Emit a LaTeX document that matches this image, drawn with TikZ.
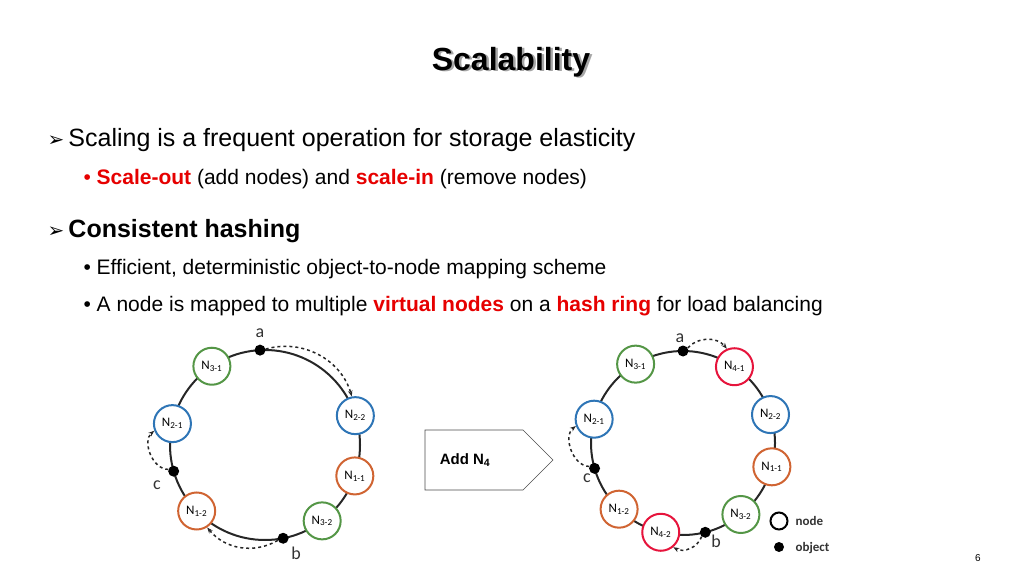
\documentclass[tikz,border=0pt]{standalone}
\usepackage{fontspec}
\setmainfont{Liberation Sans}
\newfontfamily\calfnt{Carlito}
\newfontfamily\djfnt{DejaVu Sans}
\usetikzlibrary{shapes.arrows,calc,arrows.meta}
\definecolor{cg}{RGB}{84,150,70}
\definecolor{cb}{RGB}{46,117,182}
\definecolor{co}{RGB}{208,100,50}
\definecolor{cr}{RGB}{230,20,60}
\definecolor{hl}{RGB}{230,0,0}
\tikzset{
 vn/.style={circle,draw=#1,line width=2pt,fill=white,minimum size=37pt,inner sep=0pt,font=\calfnt\fontsize{13}{13}\selectfont},
 obj/.style={circle,fill=black,minimum size=11pt,inner sep=0pt},
 ring/.style={line width=2pt,black!85},
 dasharr/.style={dashed,line width=1.5pt,-{Stealth[length=6pt]},black!85},
 lbl/.style={font=\calfnt\fontsize{18}{18}\selectfont,text=black!80},
 t1/.style={anchor=base west,font=\fontsize{25}{25}\selectfont},
 t2/.style={anchor=base west,font=\fontsize{21}{21}\selectfont}
}
\begin{document}
\begin{tikzpicture}[x=1pt,y=1pt]
\useasboundingbox (0,0) rectangle (1024,576);
% title
\node (titles) at (513.5,512.5) {\fontsize{32}{32}\selectfont\bfseries\color{black!35}Scalability};
\node (title) at (511,514) {\fontsize{32}{32}\selectfont\bfseries Scalability};
% text
\node[t1] (b1) at (44,429) {{\djfnt\fontsize{20}{20}\selectfont ➢}\,Scaling is a frequent operation for storage elasticity};
\node[t2] (s1) at (80,391) {\textcolor{hl}{•} \textcolor{hl}{\bfseries Scale-out} (add nodes) and \textcolor{hl}{\bfseries scale-in} (remove nodes)};
\node[t1] (b2) at (44,338) {{\djfnt\fontsize{20}{20}\selectfont ➢}\,\bfseries Consistent hashing};
\node[t2] (s2) at (80,301) {• Efficient, deterministic object-to-node mapping scheme};
\node[t2] (s3) at (80,265) {• A node is mapped to multiple \textcolor{hl}{\bfseries virtual nodes} on a \textcolor{hl}{\bfseries hash ring} for load balancing};
% left ring
\coordinate (CL) at (265,131);
\draw[ring] (CL) circle (95);
\node[obj] (aL) at ($(CL)+(93:95)$) {};
\node[obj] (bL) at ($(CL)+(281:95)$) {};
\node[obj] (cL) at ($(CL)+(196:95)$) {};
\node[vn=cg] (L31) at ($(CL)+(124:95)$) {N\textsubscript{3-1}};
\node[vn=cb] (L21) at ($(CL)+(167:95)$) {N\textsubscript{2-1}};
\node[vn=co] (L12) at ($(CL)+(224:95)$) {N\textsubscript{1-2}};
\node[vn=cg] (L32) at ($(CL)+(307:95)$) {N\textsubscript{3-2}};
\node[vn=co] (L11) at ($(CL)+(341:95)$) {N\textsubscript{1-1}};
\node[vn=cb] (L22) at ($(CL)+(18:95)$) {N\textsubscript{2-2}};
\node[lbl] (la) at (260,243) {a};
\node[lbl] (lb) at (296,23) {b};
\node[lbl] (lc) at (157,91) {c};
\draw[dasharr] (aL) to[bend left=45] (L22);
\draw[dasharr] (bL) to[bend left=40] (L12);
\draw[dasharr] (cL) to[bend left=70] (L21);
% arrow
\node[single arrow,draw=black!70,line width=0.6pt,fill=white,minimum height=128pt,minimum width=60pt,single arrow head extend=0pt,single arrow tip angle=90,inner sep=0pt] (arr) at (474,116) {};
\node (addn) at (465,116) {\fontsize{15}{15}\selectfont\bfseries Add N\textsubscript{4}};
% right ring
\coordinate (CR) at (683,133);
\draw[ring] (CR) circle (92);
\node[obj] (aR) at ($(CR)+(90:92)$) {};
\node[obj] (bR) at ($(CR)+(-76:92)$) {};
\node[obj] (cR) at ($(CR)+(-164:92)$) {};
\node[vn=cg] (R31) at ($(CR)+(121:92)$) {N\textsubscript{3-1}};
\node[vn=cr] (R41) at ($(CR)+(56:92)$) {N\textsubscript{4-1}};
\node[vn=cb] (R22) at ($(CR)+(18:92)$) {N\textsubscript{2-2}};
\node[vn=co] (R11) at ($(CR)+(-15:92)$) {N\textsubscript{1-1}};
\node[vn=cg] (R32) at ($(CR)+(-51:92)$) {N\textsubscript{3-2}};
\node[vn=cr] (R42) at ($(CR)+(-104:92)$) {N\textsubscript{4-2}};
\node[vn=co] (R12) at ($(CR)+(-134:92)$) {N\textsubscript{1-2}};
\node[vn=cb] (R21) at ($(CR)+(165:92)$) {N\textsubscript{2-1}};
\node[lbl] (ra) at (680,238) {a};
\node[lbl] (rb) at (716,35) {b};
\node[lbl] (rc) at (587,98) {c};
\draw[dasharr] (aR) to[bend left=50] (R41);
\draw[dasharr] (bR) to[bend left=50] (R42);
\draw[dasharr] (cR) to[bend left=70] (R21);
% legend
\node[circle,draw=black,line width=2pt,minimum size=17pt,inner sep=0pt] (lgn) at (779,55) {};
\node[anchor=west,font=\calfnt\bfseries\fontsize{13}{13}\selectfont,text=black!80] (lgnt) at (792,55) {node};
\node[obj,minimum size=10pt] (lgo) at (779,29) {};
\node[anchor=west,font=\calfnt\bfseries\fontsize{13}{13}\selectfont,text=black!80] (lgot) at (792,28) {object};
\node (pg) at (978,18) {\fontsize{10}{10}\selectfont 6};
\end{tikzpicture}
\end{document}
